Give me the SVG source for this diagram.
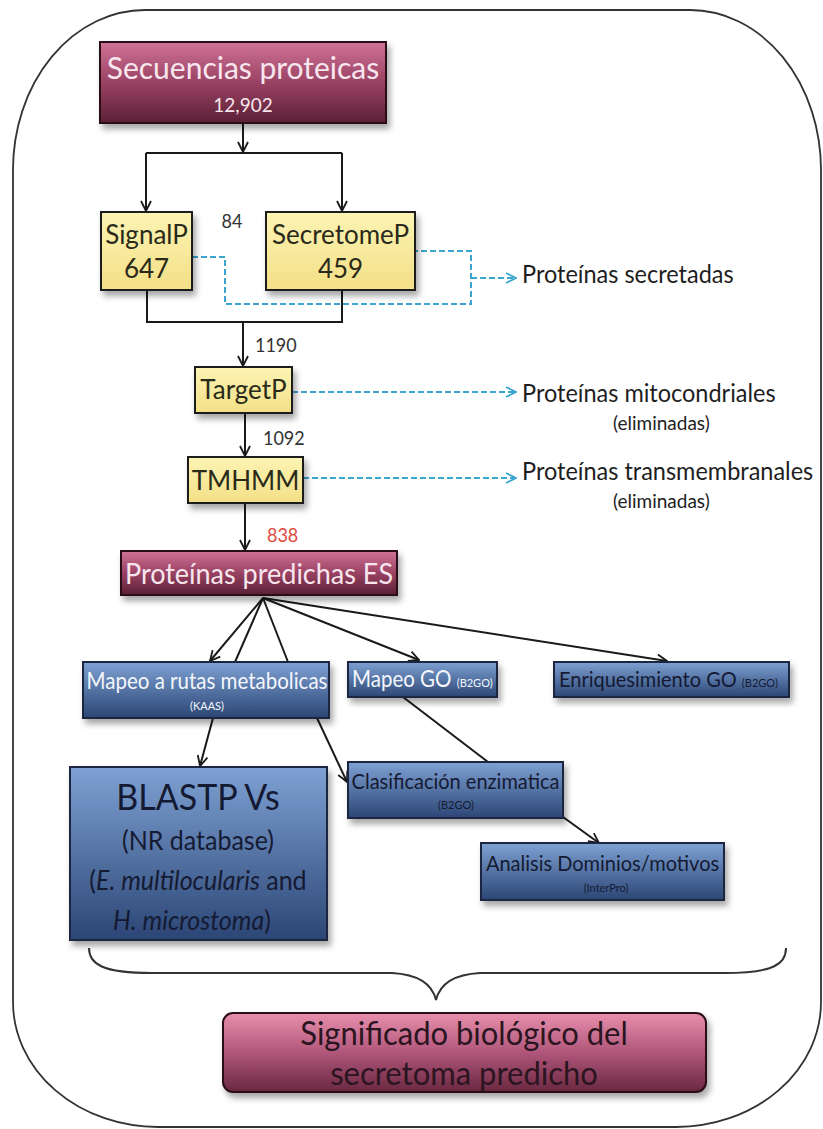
<svg xmlns="http://www.w3.org/2000/svg" width="823" height="1129" viewBox="0 0 823 1129">
<defs>
<style>
.t{font-family:Lato,"Open Sans","Liberation Sans",sans-serif;}
.ln{fill:none;stroke:#1a1a1a;stroke-width:2;}
.dl{fill:none;stroke:#3aa6cf;stroke-width:2;stroke-dasharray:6 3;}
.yb{fill:url(#gy);stroke:#1e1e1e;stroke-width:2;filter:url(#sh);}
.bb{fill:url(#gb);stroke:#1b2740;stroke-width:2;filter:url(#sh);}
.pb{fill:url(#gp);stroke:#2a1018;stroke-width:2;filter:url(#sh);}
.wt{fill:#f4f6fb;}
.dt{fill:#151a33;}
.yt{fill:#2a2a1a;font-size:26px;}
.num{fill:#333;font-size:18px;}
.lab{fill:#1e1e1e;font-size:23.5px;}
.elim{fill:#1e1e1e;font-size:19px;}
</style>
<linearGradient id="gy" x1="0" y1="0" x2="0" y2="1"><stop offset="0" stop-color="#fcf4b4"/><stop offset="1" stop-color="#f3df86"/></linearGradient>
<linearGradient id="gb" x1="0" y1="0" x2="0" y2="1"><stop offset="0" stop-color="#7ea1d3"/><stop offset="1" stop-color="#2b4675"/></linearGradient>
<linearGradient id="gp" x1="0" y1="0" x2="0" y2="1"><stop offset="0" stop-color="#cf7396"/><stop offset="0.5" stop-color="#9a4263"/><stop offset="1" stop-color="#5a2034"/></linearGradient>
<linearGradient id="gp2" x1="0" y1="0" x2="0" y2="1"><stop offset="0" stop-color="#e88fad"/><stop offset="0.5" stop-color="#b0567a"/><stop offset="1" stop-color="#6a2840"/></linearGradient>
<filter id="sh" x="-10%" y="-10%" width="130%" height="140%"><feDropShadow dx="3" dy="5" stdDeviation="3" flood-color="#000" flood-opacity="0.35"/></filter>
<marker id="ah" viewBox="0 0 12 12" refX="11" refY="6" markerWidth="12" markerHeight="12" markerUnits="userSpaceOnUse" orient="auto"><path d="M1,1 L11,6 L1,11" fill="none" stroke="#1a1a1a" stroke-width="1.8"/></marker>
<marker id="ac" viewBox="0 0 12 12" refX="11" refY="6" markerWidth="12" markerHeight="12" markerUnits="userSpaceOnUse" orient="auto"><path d="M1,1 L11,6 L1,11" fill="none" stroke="#3aa6cf" stroke-width="1.8"/></marker>
</defs>
<rect width="823" height="1129" fill="#ffffff"/>
<path id="frame" d="M145,10 L690,10 A131,160 0 0 1 821,170 L821,1002 A145,125 0 0 1 676,1127 L158,1127 A145,125 0 0 1 13,1002 L13,170 A132,160 0 0 1 145,10 Z" fill="none" stroke="#333" stroke-width="1.8"/>

<g id="connectors">
<path class="ln" d="M243,123 L243,152" marker-end="url(#ah)"/>
<path class="ln" d="M146,153 L342,153"/>
<path class="ln" d="M146,153 L146,211" marker-end="url(#ah)"/>
<path class="ln" d="M342,153 L342,211" marker-end="url(#ah)"/>
<path class="ln" d="M147,290 L147,322 L342,322 L342,290"/>
<path class="ln" d="M243,322 L243,366" marker-end="url(#ah)"/>
<path class="ln" d="M245,413 L245,456" marker-end="url(#ah)"/>
<path class="ln" d="M245,503 L245,550" marker-end="url(#ah)"/>
<path class="dl" d="M192,257 L225,257 L225,304 L471,304 L471,251 L415,251"/>
<path class="dl" d="M471,278 L516,278" marker-end="url(#ac)"/>
<path class="dl" d="M292,392 L516,392" marker-end="url(#ac)"/>
<path class="dl" d="M303,478 L516,478" marker-end="url(#ac)"/>
<path class="ln" d="M263,598 L210,661" marker-end="url(#ah)"/>
<path class="ln" d="M263,598 L235,662"/>
<path class="ln" d="M263,598 L288,662"/>
<path class="ln" d="M263,598 L419,660" marker-end="url(#ah)"/>
<path class="ln" d="M263,598 L667,661" marker-end="url(#ah)"/>
<path class="ln" d="M213,718 L200,766" marker-end="url(#ah)"/>
<path class="ln" d="M317,718 L347,782" marker-end="url(#ah)"/>
<path class="ln" d="M403,697 L488,762"/>
<path class="ln" d="M563,817 L599,843" marker-end="url(#ah)"/>
<path id="brace" d="M89,948 C89,964 102,973 152,973 L392,973 Q430,975 436,1000 Q442,975 480,973 L724,973 C774,973 786,964 786,948" fill="none" stroke="#333" stroke-width="2"/>
</g>

<g id="n-secuencias">
<rect class="pb" x="100" y="42" width="286" height="81"/>
<text class="t" font-size="30" fill="#f7e6ee" text-anchor="middle" transform="matrix(1 0 0 1.05 243 79)">Secuencias proteicas</text>
<text class="t" font-size="19" fill="#f7e6ee" text-anchor="middle" transform="matrix(1 0 0 1.05 243 112)">12,902</text>
</g>

<g id="n-signalp">
<rect class="yb" x="101" y="212" width="91" height="78"/>
<text class="t yt" text-anchor="middle" transform="matrix(1 0 0 1.05 146.5 244)">SignalP</text>
<text class="t yt" text-anchor="middle" transform="matrix(1 0 0 1.05 146.5 278)">647</text>
</g>
<g id="n-secretomep">
<rect class="yb" x="266" y="212" width="149" height="78"/>
<text class="t yt" text-anchor="middle" transform="matrix(1 0 0 1.05 340.5 244)">SecretomeP</text>
<text class="t yt" text-anchor="middle" transform="matrix(1 0 0 1.05 340.5 278)">459</text>
</g>
<text class="t num" text-anchor="middle" transform="matrix(1 0 0 1.05 232 228)">84</text>
<text class="t num" transform="matrix(1 0 0 1.05 255 352)">1190</text>

<g id="n-targetp">
<rect class="yb" x="195" y="367" width="97" height="46"/>
<text class="t yt" text-anchor="middle" transform="matrix(1 0 0 1.05 243.5 399)">TargetP</text>
</g>
<text class="t num" transform="matrix(1 0 0 1.05 263 445)">1092</text>
<g id="n-tmhmm">
<rect class="yb" x="188" y="457" width="115" height="46"/>
<text class="t yt" text-anchor="middle" transform="matrix(1 0 0 1.05 245.5 490)">TMHMM</text>
</g>
<text class="t num" style="fill:#e04a40" transform="matrix(1 0 0 1.05 267 542)">838</text>

<g id="n-secretadas">
<text class="t lab" transform="matrix(1 0 0 1.05 522 283)">Proteínas secretadas</text>
</g>
<g id="n-mito">
<text class="t lab" transform="matrix(1 0 0 1.05 522 402)">Proteínas mitocondriales</text>
<text class="t elim" transform="matrix(1 0 0 1.05 613 430)">(eliminadas)</text>
</g>
<g id="n-transm">
<text class="t lab" transform="matrix(1 0 0 1.05 522 480)">Proteínas transmembranales</text>
<text class="t elim" transform="matrix(1 0 0 1.05 613 508)">(eliminadas)</text>
</g>

<g id="n-es">
<rect class="pb" x="121" y="551" width="276" height="44"/>
<text class="t" font-size="27" fill="#f7e6ee" text-anchor="middle" transform="matrix(1 0 0 1.05 259 584)">Proteínas predichas ES</text>
</g>

<g id="n-rutas">
<rect class="bb" x="83" y="662" width="246" height="56"/>
<text class="t wt" font-size="20.5" text-anchor="middle" transform="matrix(1 0 0 1.08 207 689)">Mapeo a rutas metabolicas</text>
<text class="t wt" font-size="11" text-anchor="middle" transform="matrix(1 0 0 1.08 207 710)">(KAAS)</text>
</g>
<g id="n-mapeogo">
<rect class="bb" x="348" y="662" width="149" height="35"/>
<text class="t wt" font-size="20.5" transform="matrix(1 0 0 1.08 352 687)">Mapeo GO <tspan font-size="11">(B2GO)</tspan></text>
</g>
<g id="n-enriq">
<rect class="bb" x="554" y="662" width="235" height="35"/>
<text class="t dt" font-size="20" transform="matrix(1 0 0 1.08 559 687)">Enriquesimiento GO <tspan font-size="11">(B2GO)</tspan></text>
</g>
<g id="n-clasif">
<rect class="bb" x="348" y="762" width="215" height="56"/>
<text class="t dt" font-size="20" text-anchor="middle" transform="matrix(1 0 0 1.08 455.5 789)">Clasificación enzimatica</text>
<text class="t dt" font-size="11" text-anchor="middle" transform="matrix(1 0 0 1.08 456 809)">(B2GO)</text>
</g>
<g id="n-analisis">
<rect class="bb" x="481" y="843" width="243" height="57"/>
<text class="t dt" font-size="20" text-anchor="middle" transform="matrix(1 0 0 1.08 602.5 871)">Analisis Dominios/motivos</text>
<text class="t dt" font-size="11" text-anchor="middle" transform="matrix(1 0 0 1.08 606 892)">(InterPro)</text>
</g>
<g id="n-blast">
<rect class="bb" x="70" y="767" width="257" height="173"/>
<text class="t dt" font-size="34" text-anchor="middle" transform="matrix(1 0 0 1.1 198 810)">BLASTP Vs</text>
<text class="t dt" font-size="25" text-anchor="middle" transform="matrix(1 0 0 1.1 198 850)">(NR database)</text>
<text class="t dt" font-size="25" text-anchor="middle" transform="matrix(1 0 0 1.1 198 890)">(<tspan font-style="italic">E. multilocularis</tspan> and</text>
<text class="t dt" font-size="25" text-anchor="middle" transform="matrix(1 0 0 1.1 192 930)"><tspan font-style="italic">H. microstoma</tspan>)</text>
</g>

<g id="n-significado">
<rect class="pb" style="fill:url(#gp2)" x="223" y="1013" width="483" height="79" rx="10" ry="10"/>
<text class="t" font-size="31" fill="#2a1520" text-anchor="middle" transform="matrix(1 0 0 1.08 464 1045)">Significado biológico del</text>
<text class="t" font-size="31" fill="#2a1520" text-anchor="middle" transform="matrix(1 0 0 1.08 464 1085)">secretoma predicho</text>
</g>
</svg>
